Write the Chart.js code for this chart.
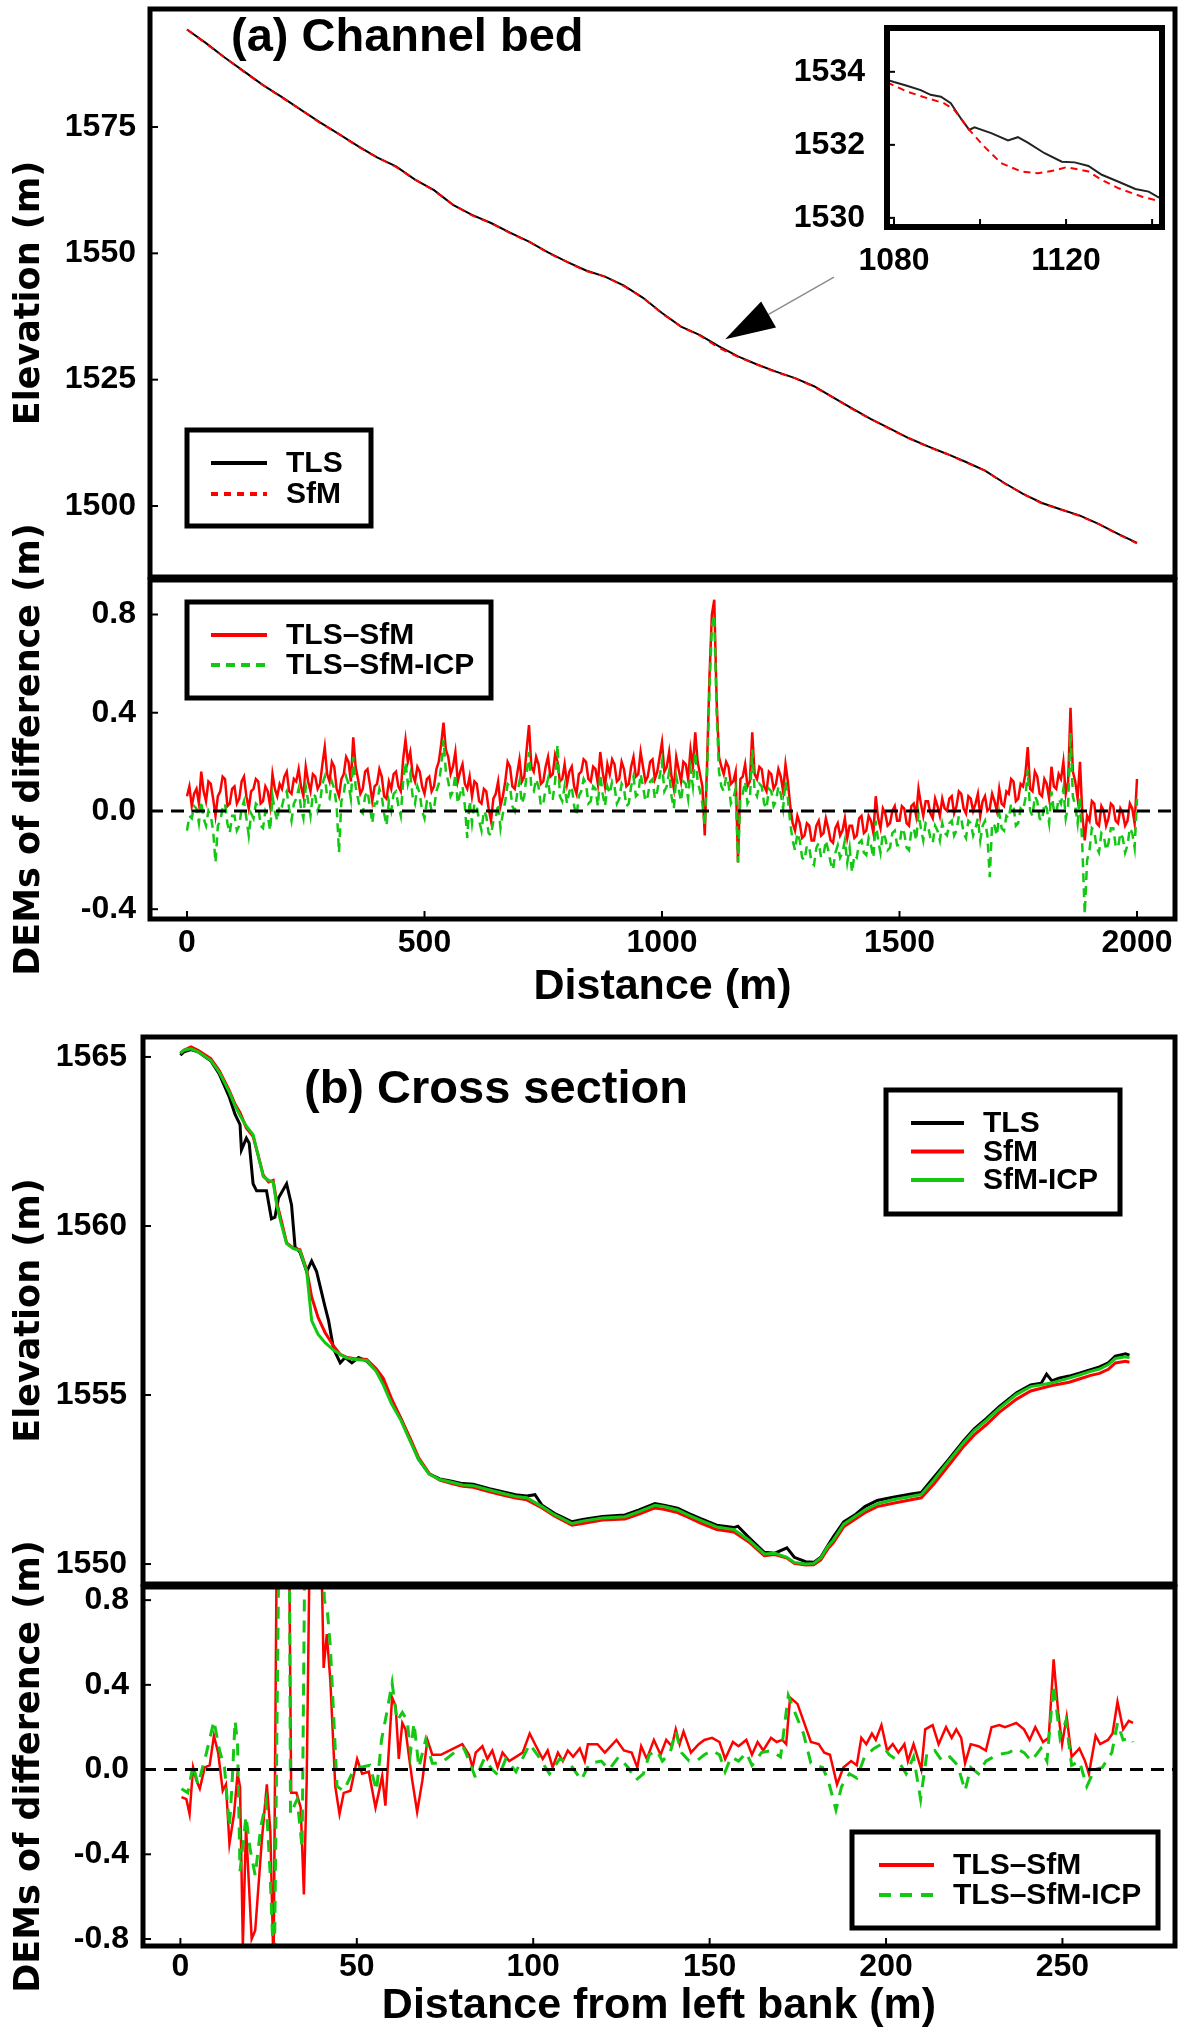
<!DOCTYPE html>
<html>
<head>
<meta charset="utf-8">
<title>Channel bed and cross section</title>
<script src="https://cdn.jsdelivr.net/npm/chart.js@4.4.1/dist/chart.umd.min.js"></script>
<style>
  html, body { margin: 0; padding: 0; background: #fff; }
  body { position: relative; width: 1181px; height: 2043px; overflow: hidden; }
  canvas { position: absolute; }
</style>
</head>
<body>
<canvas id="bedChart" width="1181" height="600" style="left:0;top:0"></canvas>
<canvas id="bedDiffChart" width="1181" height="660" style="left:0;top:380px"></canvas>
<canvas id="insetChart" width="421" height="300" style="left:760px;top:0"></canvas>
<canvas id="csChart" width="1181" height="600" style="left:0;top:1000px"></canvas>
<canvas id="csDiffChart" width="1181" height="543" style="left:0;top:1500px"></canvas>
<script>
// ---- (a) channel bed profile ----
const bedDist = [0,40,80,120,160,200,240,280,320,360,400,440,480,520,560,600,640,680,720,760,800,840,880,920,960,
  1000,1040,1080,1120,1160,1200,1240,1280,1320,1360,1400,1440,1480,1520,1560,1600,1640,1680,1720,1760,1800,1840,1880,1920,1960,2000];
const bedTLS = [1594.3,1591.6,1588.7,1586.0,1583.3,1580.9,1578.4,1575.9,1573.6,1571.2,
  1569.0,1567.2,1564.6,1562.5,1559.6,1557.6,1556.0,1554.1,1552.3,1550.2,
  1548.3,1546.6,1545.4,1543.6,1541.2,1538.2,1535.5,1533.8,1531.6,1529.6,
  1528.0,1526.6,1525.3,1523.7,1521.5,1519.3,1517.2,1515.3,1513.4,1511.8,
  1510.3,1508.7,1507.0,1504.6,1502.4,1500.6,1499.3,1498.1,1496.4,1494.5,1492.7];
const bedSfM = [1594.3,1591.5,1588.7,1585.9,1583.3,1580.8,1578.4,1575.8,1573.6,1571.1,
  1569.0,1567.1,1564.6,1562.4,1559.6,1557.5,1556.0,1554.0,1552.3,1550.1,
  1548.3,1546.5,1545.4,1543.5,1541.2,1538.1,1535.5,1533.7,1531.3,1529.5,
  1528.0,1526.5,1525.3,1523.6,1521.5,1519.2,1517.2,1515.2,1513.4,1511.7,
  1510.3,1508.6,1507.0,1504.5,1502.4,1500.5,1499.3,1498.0,1496.4,1494.4,1492.6];
const bedElevTicks = [1500, 1525, 1550, 1575];
const distTicks = [0, 500, 1000, 1500, 2000];

// inset, 1080-1140 m
const insetDistTLS = [1078.4,1080,1083,1086.2,1088.5,1090.9,1093.2,1095.5,1097.5,1098.7,1102.6,1106.5,1108.8,1111.1,1115,1119,1122,1125.2,1128.3,1132.2,1136.1,1139.2,1141.2,1142.3];
const insetTLS = [1533.78,1533.72,1533.62,1533.5,1533.37,1533.32,1533.14,1532.73,1532.41,1532.48,1532.32,1532.12,1532.21,1532.06,1531.77,1531.54,1531.52,1531.42,1531.18,1530.99,1530.79,1530.72,1530.58,1530.52];
const insetDistSfM = [1078.4,1083,1087.7,1091.6,1094,1097.5,1101,1104.9,1109.6,1113.5,1117.4,1120.1,1125.2,1128.3,1132.2,1137.7,1141.2,1142.3];
const insetSfM = [1533.71,1533.46,1533.28,1533.14,1532.96,1532.41,1531.95,1531.5,1531.27,1531.22,1531.3,1531.39,1531.27,1531.04,1530.81,1530.58,1530.47,1530.44];
const insetXTicks = [1080, 1100, 1120, 1140];
const insetXLabels = [1080, 1120];
const insetYTicks = [1530, 1532, 1534];

// DEMs of difference along the bed, every 5 m
const diffDist = [
  0,5,10,15,20,25,30,35,40,45,50,55,60,65,70,75,80,85,90,95,
  100,105,110,115,120,125,130,135,140,145,150,155,160,165,170,175,180,185,190,195,
  200,205,210,215,220,225,230,235,240,245,250,255,260,265,270,275,280,285,290,295,
  300,305,310,315,320,325,330,335,340,345,350,355,360,365,370,375,380,385,390,395,
  400,405,410,415,420,425,430,435,440,445,450,455,460,465,470,475,480,485,490,495,
  500,505,510,515,520,525,530,535,540,545,550,555,560,565,570,575,580,585,590,595,
  600,605,610,615,620,625,630,635,640,645,650,655,660,665,670,675,680,685,690,695,
  700,705,710,715,720,725,730,735,740,745,750,755,760,765,770,775,780,785,790,795,
  800,805,810,815,820,825,830,835,840,845,850,855,860,865,870,875,880,885,890,895,
  900,905,910,915,920,925,930,935,940,945,950,955,960,965,970,975,980,985,990,995,
  1000,1005,1010,1015,1020,1025,1030,1035,1040,1045,1050,1055,1060,1065,1070,1075,1080,1085,1090,1095,
  1100,1105,1110,1115,1120,1125,1130,1135,1140,1145,1150,1155,1160,1165,1170,1175,1180,1185,1190,1195,
  1200,1205,1210,1215,1220,1225,1230,1235,1240,1245,1250,1255,1260,1265,1270,1275,1280,1285,1290,1295,
  1300,1305,1310,1315,1320,1325,1330,1335,1340,1345,1350,1355,1360,1365,1370,1375,1380,1385,1390,1395,
  1400,1405,1410,1415,1420,1425,1430,1435,1440,1445,1450,1455,1460,1465,1470,1475,1480,1485,1490,1495,
  1500,1505,1510,1515,1520,1525,1530,1535,1540,1545,1550,1555,1560,1565,1570,1575,1580,1585,1590,1595,
  1600,1605,1610,1615,1620,1625,1630,1635,1640,1645,1650,1655,1660,1665,1670,1675,1680,1685,1690,1695,
  1700,1705,1710,1715,1720,1725,1730,1735,1740,1745,1750,1755,1760,1765,1770,1775,1780,1785,1790,1795,
  1800,1805,1810,1815,1820,1825,1830,1835,1840,1845,1850,1855,1860,1865,1870,1875,1880,1885,1890,1895,
  1900,1905,1910,1915,1920,1925,1930,1935,1940,1945,1950,1955,1960,1965,1970,1975,1980,1985,1990,1995,
  2000];
const diffSfM = [
  0.06,0.10,0.02,0.07,0.09,0.03,0.16,0.08,0.04,0.12,0.11,0.05,-0.02,0.06,0.08,0.14,0.13,0.02,0.03,0.09,
  0.10,0.03,0.05,0.12,0.14,0.06,0.01,0.08,0.09,0.13,0.12,0.03,0.04,0.10,0.08,0.02,0.15,0.09,0.06,0.11,
  0.09,0.14,0.16,0.08,0.07,0.13,0.12,0.17,0.10,0.06,0.18,0.12,0.08,0.15,0.14,0.09,0.11,0.19,0.26,0.15,
  0.12,0.20,0.18,0.09,0.06,0.13,0.15,0.22,0.20,0.12,0.30,0.18,0.13,0.07,0.09,0.16,0.17,0.11,0.04,0.10,
  0.11,0.17,0.14,0.06,0.05,0.12,0.09,0.15,0.16,0.10,0.08,0.21,0.29,0.20,0.24,0.15,0.12,0.18,0.16,0.10,
  0.07,0.13,0.14,0.08,0.10,0.17,0.20,0.27,0.36,0.25,0.22,0.15,0.18,0.24,0.12,0.16,0.19,0.11,0.09,0.14,
  0.06,0.12,0.11,0.04,0.03,0.09,0.08,0.01,-0.04,0.05,0.07,0.12,0.02,0.06,0.12,0.20,0.18,0.10,0.09,0.15,
  0.21,0.12,0.14,0.25,0.35,0.18,0.16,0.22,0.19,0.11,0.12,0.18,0.22,0.14,0.15,0.23,0.20,0.12,0.13,0.19,
  0.11,0.16,0.18,0.10,0.07,0.15,0.16,0.21,0.20,0.13,0.12,0.18,0.17,0.11,0.24,0.16,0.10,0.19,0.15,0.21,
  0.19,0.12,0.13,0.20,0.17,0.10,0.11,0.18,0.22,0.14,0.15,0.24,0.18,0.12,0.14,0.20,0.21,0.13,0.16,0.22,
  0.28,0.16,0.18,0.24,0.14,0.09,0.22,0.17,0.12,0.20,0.19,0.13,0.25,0.18,0.32,0.20,0.15,0.10,-0.10,0.20,
  0.55,0.80,0.86,0.45,0.22,0.18,0.15,0.20,0.18,0.11,0.12,0.16,-0.21,0.13,0.14,0.19,0.10,0.12,0.32,0.15,
  0.13,0.18,0.17,0.10,0.08,0.16,0.15,0.09,0.11,0.17,0.14,0.08,0.19,0.12,0.02,-0.05,-0.08,-0.02,-0.05,-0.11,
  -0.10,-0.05,-0.06,-0.12,-0.12,-0.06,-0.04,-0.10,-0.09,-0.03,-0.07,-0.12,-0.13,-0.07,-0.05,-0.10,-0.08,-0.03,-0.11,-0.06,
  -0.06,-0.11,-0.10,-0.03,-0.02,-0.09,-0.08,-0.02,-0.04,-0.09,0.06,-0.03,-0.07,0.01,-0.01,-0.06,-0.05,0.00,0.02,-0.04,
  -0.04,0.02,0.01,-0.05,-0.06,0.02,0.03,-0.02,0.09,0.03,-0.02,0.04,0.04,-0.01,-0.03,0.05,0.02,-0.02,0.05,0.01,
  0.00,0.05,0.06,-0.01,0.02,0.08,0.07,0.01,-0.01,0.06,0.05,0.00,0.03,0.07,-0.02,0.04,0.06,0.00,0.01,0.07,
  0.04,0.00,0.09,0.03,0.02,0.08,0.07,0.13,0.12,0.04,0.05,0.11,0.10,0.15,0.26,0.09,0.08,0.16,0.14,0.07,
  0.06,0.13,0.11,0.05,0.18,0.10,0.09,0.15,0.13,0.20,0.07,0.12,0.42,0.16,0.12,0.05,0.20,-0.02,-0.12,-0.02,
  -0.04,0.04,0.03,-0.05,-0.06,0.02,0.00,-0.06,-0.03,0.03,0.02,-0.04,-0.05,0.01,-0.01,-0.06,-0.04,0.03,0.01,-0.05,
  0.13];
const diffICP = [
  -0.08,-0.02,-0.03,0.02,0.01,-0.05,0.04,-0.03,-0.06,0.00,-0.02,-0.08,-0.21,-0.06,-0.04,0.01,0.03,-0.05,-0.09,-0.02,
  -0.02,-0.08,-0.06,0.01,0.04,-0.03,-0.10,-0.01,-0.03,0.03,0.02,-0.06,-0.07,0.00,-0.02,-0.08,0.06,0.00,-0.04,0.03,
  0.02,0.06,0.08,0.01,-0.04,0.03,0.05,0.09,0.01,-0.03,0.10,0.04,-0.02,0.07,0.06,0.00,0.03,0.11,0.14,0.06,
  0.05,0.12,0.09,0.02,-0.17,0.04,0.07,0.14,0.11,0.05,0.22,0.10,0.05,0.00,-0.01,0.06,0.08,0.02,-0.05,0.03,
  0.03,0.09,0.06,-0.01,-0.06,0.04,0.00,0.07,0.08,0.02,-0.02,0.12,0.20,0.11,0.15,0.06,0.03,0.10,0.07,0.00,
  -0.03,0.04,0.05,0.00,0.01,0.08,0.11,0.18,0.29,0.16,0.12,0.06,0.08,0.15,0.03,0.07,0.10,0.02,-0.11,0.04,
  -0.05,0.03,0.02,-0.04,-0.08,0.00,-0.02,-0.09,-0.10,-0.04,-0.03,0.03,-0.07,-0.01,0.04,0.11,0.10,0.02,0.00,0.07,
  0.12,0.03,0.06,0.15,0.24,0.09,0.08,0.13,0.10,0.02,0.03,0.09,0.13,0.05,0.05,0.12,0.27,0.06,0.04,0.10,
  0.03,0.08,0.10,0.02,-0.02,0.06,0.08,0.13,0.11,0.03,0.04,0.10,0.09,0.02,0.15,0.07,0.02,0.10,0.07,0.12,
  0.10,0.03,0.05,0.11,0.09,0.02,0.03,0.10,0.14,0.06,0.07,0.15,0.10,0.04,0.06,0.12,0.13,0.05,0.08,0.14,
  0.20,0.08,0.10,0.16,0.06,0.01,0.14,0.09,0.04,0.12,0.11,0.05,0.17,0.10,0.24,0.12,0.08,0.03,-0.06,0.15,
  0.50,0.75,0.80,0.40,0.16,0.10,0.08,0.14,0.11,0.03,0.05,0.09,-0.21,0.06,0.07,0.12,0.03,0.05,0.25,0.08,
  0.06,0.11,0.10,0.03,0.01,0.09,0.08,0.02,0.04,0.10,0.07,0.01,0.12,0.05,-0.05,-0.12,-0.16,-0.09,-0.12,-0.19,
  -0.20,-0.14,-0.15,-0.21,-0.22,-0.15,-0.13,-0.19,-0.18,-0.12,-0.16,-0.21,-0.24,-0.17,-0.14,-0.19,-0.17,-0.12,-0.21,-0.15,
  -0.25,-0.18,-0.19,-0.13,-0.12,-0.17,-0.18,-0.11,-0.14,-0.19,-0.04,-0.12,-0.17,-0.09,-0.11,-0.16,-0.15,-0.09,-0.08,-0.14,
  -0.14,-0.07,-0.09,-0.15,-0.16,-0.08,-0.07,-0.12,-0.01,-0.07,-0.12,-0.05,-0.06,-0.11,-0.13,-0.06,-0.08,-0.12,-0.05,-0.09,
  -0.10,-0.05,-0.04,-0.10,-0.08,-0.02,-0.03,-0.09,-0.11,-0.04,-0.05,-0.10,-0.07,-0.03,-0.12,-0.06,-0.04,-0.10,-0.27,-0.05,
  -0.06,-0.10,-0.01,-0.07,-0.08,-0.02,-0.03,0.03,0.02,-0.06,-0.05,0.01,0.00,0.05,0.17,0.00,-0.02,0.06,0.04,-0.03,
  -0.04,0.03,0.01,-0.05,0.08,0.00,-0.01,0.05,0.03,0.09,-0.03,0.02,0.32,0.06,0.02,-0.05,0.06,-0.15,-0.42,-0.20,
  -0.16,-0.07,-0.08,-0.15,-0.17,-0.09,-0.10,-0.16,-0.13,-0.07,-0.07,-0.14,-0.15,-0.09,-0.11,-0.17,-0.14,-0.07,-0.09,-0.15,
  0.05];
const diffTicks = [-0.4, 0, 0.4, 0.8];

// ---- (b) cross section ----
const csDistTLS = [0,1,3,5,8.6,11,13.9,15.5,16.9,17.3,18.7,19.5,20.6,21.6,24.4,25.8,26.8,27.8,30.1,31.5,
  32.5,33.9,35.8,37.2,38.6,41,42,43.4,45.3,46.7,48.6,50.5,52.8,55.5,57.5,59.8,62.5,65.2,67.5,70.5,
  73.5,76.9,80,83,87.6,91,95,98.2,100.5,102.5,106,111,114,119.6,126,130,134.5,137,140.9,144,
  147.3,152,156.9,158,161,165.5,168.5,171.9,174,177.2,179.5,181.5,183.5,185,188,191.1,194,197.5,202,207.1,
  210,213.5,217,222,225,228.4,232,237,241,244,245.5,247,249,251.9,255,258,260.5,263,265,267.9,269];
const csTLS = [1565.05,1565.15,1565.22,1565.15,1564.89,1564.5,1563.80,1563.3,1563.0,1562.25,
  1562.6,1562.45,1561.25,1561.04,1561.04,1560.21,1560.26,1560.83,1561.25,1560.62,
  1559.38,1559.22,1558.65,1558.96,1558.65,1557.61,1557.2,1556.37,1555.95,1556.11,
  1555.95,1556.11,1556.0,1555.72,1555.4,1554.85,1554.3,1553.65,1553.1,1552.67,
  1552.52,1552.45,1552.38,1552.36,1552.23,1552.15,1552.05,1552.01,1552.05,1551.74,
  1551.5,1551.25,1551.32,1551.41,1551.45,1551.6,1551.79,1551.74,1551.65,1551.5,
  1551.35,1551.15,1551.08,1551.12,1550.8,1550.35,1550.32,1550.48,1550.2,1550.07,
  1550.05,1550.2,1550.55,1550.8,1551.25,1551.45,1551.7,1551.88,1551.98,1552.07,
  1552.12,1552.56,1553.0,1553.65,1554.0,1554.30,1554.65,1555.07,1555.3,1555.35,
  1555.62,1555.42,1555.5,1555.56,1555.65,1555.75,1555.83,1555.95,1556.15,1556.22,1556.18];
const csDistSfM = [0,1,3,5,8.6,11,13.9,15.5,16.9,18.7,20.6,22,23.5,25,26.3,27.3,28.5,30.1,32,33.9,
  35.8,37.2,39,41,43.4,45.3,47,49,52.8,55.5,57.5,59.8,62.5,65.2,67.5,70.5,73.5,76.9,80,83,
  87.6,91,95,98.2,102.5,106,111,114,119.6,126,130,134.5,137,140.9,144,147.3,152,156.9,161,165.5,
  168.5,171.9,174,177.2,179.5,181.5,183.5,185,188,191.1,194,197.5,202,207.1,210,213.5,217,222,225,228.4,
  232,237,241,244,247,251.9,255,258,260.5,263,265,267.9,269];
const csSfM = [1565.1,1565.2,1565.3,1565.2,1564.95,1564.6,1564.0,1563.6,1563.35,1562.9,
  1562.65,1562.1,1561.5,1561.3,1561.35,1560.7,1560.2,1559.5,1559.35,1559.3,
  1558.7,1557.9,1557.3,1556.85,1556.45,1556.2,1556.12,1556.08,1556.05,1555.78,
  1555.5,1554.9,1554.3,1553.7,1553.15,1552.68,1552.48,1552.38,1552.3,1552.27,
  1552.14,1552.05,1551.95,1551.9,1551.66,1551.42,1551.15,1551.2,1551.3,1551.33,
  1551.48,1551.66,1551.62,1551.52,1551.38,1551.22,1551.02,1550.95,1550.66,1550.25,
  1550.28,1550.18,1550.02,1549.97,1549.98,1550.12,1550.45,1550.62,1551.1,1551.32,
  1551.52,1551.7,1551.8,1551.9,1551.96,1552.36,1552.82,1553.48,1553.82,1554.12,
  1554.48,1554.88,1555.12,1555.2,1555.28,1555.38,1555.48,1555.58,1555.64,1555.76,
  1555.95,1556.0,1555.97];
const csDistICP = csDistSfM;
const csICP = [1565.12,1565.2,1565.24,1565.15,1564.9,1564.55,1563.95,1563.55,1563.27,1562.95,
  1562.7,1562.1,1561.46,1561.35,1561.3,1560.62,1560.1,1559.48,1559.33,1559.27,
  1558.65,1557.2,1556.8,1556.55,1556.33,1556.2,1556.1,1556.06,1556.02,1555.7,
  1555.3,1554.75,1554.25,1553.62,1553.1,1552.66,1552.5,1552.42,1552.34,1552.32,
  1552.19,1552.1,1552.0,1551.96,1551.7,1551.46,1551.2,1551.27,1551.36,1551.4,
  1551.55,1551.74,1551.7,1551.6,1551.45,1551.3,1551.1,1551.02,1550.72,1550.3,
  1550.32,1550.2,1550.05,1550.0,1550.02,1550.18,1550.52,1550.7,1551.18,1551.4,
  1551.6,1551.78,1551.9,1552.0,1552.06,1552.48,1552.95,1553.6,1553.95,1554.25,
  1554.6,1555.02,1555.25,1555.3,1555.36,1555.5,1555.6,1555.7,1555.77,1555.9,
  1556.08,1556.13,1556.1];
const csElevTicks = [1550, 1555, 1560, 1565];
const csDistTicks = [0, 50, 100, 150, 200, 250];

// DEMs of difference across the section
const csDiffDistSfM = [0.3,1.7,2.6,3.6,4.5,5.5,6.9,8.3,9.5,10.7,12.0,12.9,13.9,15.2,16.2,16.9,17.7,18.6,20.2,21.2,
  23.1,24.5,25.5,26.4,27.5,30.6,31.4,32.9,34.1,35.0,35.8,36.9,39.5,40.6,41.5,42.5,43.9,45.1,46.3,48.2,
  50.1,51.5,53.4,55.3,56.2,57.2,58.1,60.0,61.0,61.9,62.9,63.8,64.8,65.7,67.1,68.6,70.0,71.4,73.8,76.2,
  79.9,81.8,82.8,83.7,85.6,87.0,88.4,89.9,91.3,93.2,95.1,97.0,99.0,100.8,102.7,104.1,105.5,107.0,108.4,109.8,
  111.3,113.2,114.6,115.5,118.2,120.3,123.6,125.7,127.9,129.5,130.6,132.2,134.2,136.1,137.7,139.3,140.4,141.5,142.6,144.7,
  146.9,148.5,150.7,152.8,154.4,156.6,158.2,160.4,162.0,163.6,165.2,167.4,169.0,170.6,171.7,172.8,174.9,176.6,178.7,180.9,
  182.5,184.1,186.1,187.9,190.1,191.7,193.0,194.4,196.0,197.1,198.7,200.3,201.9,203.5,205.2,206.2,207.8,210.0,211.1,213.2,
  214.9,217.0,218.6,219.9,221.3,222.4,224.0,226.2,228.3,229.9,232.1,233.7,235.3,236.9,239.1,240.7,242.3,244.5,246.1,247.5,
  248.8,249.9,251.2,252.6,254.8,256.4,257.5,259.4,260.7,262.9,264.2,265.6,267.2,268.8,270.0];
const csDiffSfM = [-0.13,-0.14,-0.21,0.01,-0.05,-0.09,0.01,0.02,0.16,0.08,-0.10,-0.07,-0.35,-0.21,-0.02,-0.08,-0.83,-0.27,-0.80,-0.76,
  -0.33,-0.07,-0.29,-0.95,1.5,1.5,-0.11,-0.11,-0.18,-0.59,-0.05,1.4,1.4,0.48,0.64,0.42,-0.08,-0.21,-0.11,-0.10,
  0.05,-0.02,-0.01,-0.18,-0.11,-0.03,-0.17,0.34,0.30,0.05,0.22,0.19,0.06,-0.05,-0.20,-0.05,0.14,0.07,0.07,0.09,
  0.12,0.07,0.01,0.08,0.11,0.05,0.09,0.01,0.08,0.04,0.06,0.08,0.17,0.11,0.05,0.09,0.01,0.08,0.04,0.09,
  0.06,0.10,0.04,0.12,0.12,0.08,0.14,0.09,0.08,0.01,0.11,0.05,0.14,0.07,0.14,0.11,0.19,0.12,0.18,0.08,
  0.12,0.14,0.15,0.13,0.05,0.13,0.11,0.14,0.07,0.13,0.09,0.15,0.13,0.14,0.12,0.34,0.31,0.23,0.13,0.12,
  0.08,0.07,-0.07,0.01,0.04,0.02,0.15,0.12,0.17,0.14,0.21,0.09,0.12,0.08,0.12,0.04,0.12,0.00,0.19,0.21,
  0.12,0.20,0.15,0.19,0.15,0.03,0.12,0.11,0.09,0.20,0.21,0.20,0.21,0.22,0.19,0.14,0.20,0.13,0.15,0.52,
  0.27,0.12,0.25,0.06,0.10,0.04,-0.02,0.16,0.12,0.14,0.17,0.32,0.19,0.23,0.22];
const csDiffDistICP = [0.3,2.1,3.6,5.0,7.4,9.5,11.1,12.5,13.9,14.6,15.5,16.2,16.9,18.6,19.7,21.2,22.8,24.3,25.4,26.6,
  28.2,30.8,31.2,33.1,34.5,35.4,40.0,40.8,41.7,42.5,44.4,46.3,48.6,50.9,53.7,55.6,57.0,58.4,60.0,61.4,
  62.9,64.3,65.2,66.2,67.6,69.5,71.4,73.8,77.6,80.4,83.7,86.1,88.4,90.3,92.2,95.1,99.0,101.6,104.6,107.5,
  110.3,113.6,116.0,119.3,121.5,124.2,126.9,129.1,131.2,132.9,135.0,136.6,138.8,140.4,142.0,144.2,146.3,148.5,150.7,152.8,
  154.4,156.1,158.2,160.4,162.0,164.7,167.4,170.1,172.3,174.4,176.6,178.7,182.0,183.6,185.8,187.4,189.6,191.7,193.9,196.6,
  198.7,200.9,203.5,205.7,207.8,209.8,211.6,213.8,215.9,218.1,220.3,222.4,224.0,226.2,228.3,231.5,234.8,236.9,239.1,241.2,
  243.9,245.6,247.5,249.3,251.0,252.6,254.8,256.9,259.1,261.3,264.0,265.6,267.2,269.4,270.0];
const csDiffICP = [-0.09,-0.11,0.02,-0.07,0.08,0.23,0.09,0.01,-0.27,-0.08,0.23,0.12,-0.48,-0.22,-0.37,-0.50,-0.27,-0.15,-0.48,-1.0,
  1.5,1.5,-0.21,-0.14,-0.37,1.3,1.3,0.80,0.74,0.58,-0.08,-0.10,-0.02,0.01,0.02,-0.10,0.14,0.26,0.41,0.23,
  0.27,0.23,0.08,0.22,0.01,0.14,0.03,0.03,0.08,0.10,-0.04,0.05,0.00,-0.03,0.05,-0.01,0.12,0.06,-0.02,0.05,
  0.03,-0.05,0.03,0.04,0.00,0.06,0.01,-0.05,-0.02,0.07,0.09,0.04,0.08,0.18,0.08,0.04,0.04,0.07,0.09,0.07,
  -0.01,0.06,0.04,0.08,0.02,0.08,0.09,0.06,0.35,0.26,0.17,0.03,0.01,-0.05,-0.19,-0.08,-0.02,-0.04,0.06,0.10,
  0.12,0.07,0.04,-0.02,0.06,-0.14,0.08,0.09,0.04,0.06,0.02,-0.10,0.01,-0.02,0.04,0.07,0.08,0.10,0.08,0.04,
  0.10,0.04,0.40,0.15,0.23,0.02,0.04,-0.08,0.00,0.01,0.08,0.22,0.14,0.15,0.13];
const csDiffTicks = [-0.8, -0.4, 0, 0.4, 0.8];

// ---- drawing ----
const RED = '#ff0000';
const GREEN = '#12c812';
const bedXMin = -77.9, bedXMax = 2080;
const csXMin = -10.6, csXMax = 281.9;

Chart.defaults.font.family = '"Liberation Sans", Arial, sans-serif';
Chart.defaults.color = '#000';
Chart.defaults.animation = false;
Chart.defaults.events = [];
Chart.defaults.elements.point.radius = 0;
Chart.defaults.elements.line.tension = 0;
Chart.defaults.plugins.legend.display = false;
Chart.defaults.plugins.tooltip.enabled = false;

const pts = (xs, ys) => xs.map((x, i) => ({ x, y: ys[i] }));
const tickFont = { size: 32, weight: 'bold' };

function axis({ min, max, ticks, size, horizontal, show = true, padding = 12, fmt = v => String(v), labelled, title, titlePad = 0 }) {
  return {
    type: 'linear', min, max, display: show,
    grid: { display: false, drawTicks: false },
    border: { display: false },
    ticks: {
      font: tickFont, padding, autoSkip: false, maxRotation: 0, minRotation: 0,
      callback: v => (labelled && !labelled.includes(v)) ? '' : fmt(v)
    },
    afterBuildTicks: s => { s.ticks = ticks.map(v => ({ value: v })); },
    afterFit: s => {
      if (!show) return;
      if (horizontal) s.height = size; else s.width = size;
      s.paddingTop = s.paddingBottom = s.paddingLeft = s.paddingRight = 0;
    },
    title: title
      ? { display: true, text: title, font: { size: 43, weight: 'bold' }, padding: { top: 0, bottom: titlePad } }
      : { display: false }
  };
}

// thick frame round the plot area, with short inward ticks
const framePlugin = {
  id: 'frame',
  beforeDraw(chart, args, o) {
    if (!o.fill) return;
    const { ctx, chartArea: a } = chart;
    ctx.save();
    ctx.fillStyle = o.fill;
    ctx.fillRect(a.left, a.top, a.right - a.left, a.bottom - a.top);
    ctx.restore();
  },
  afterDraw(chart, args, o) {
    const { ctx, chartArea: a, scales } = chart;
    const len = 8;
    ctx.save();
    ctx.strokeStyle = '#000';
    ctx.lineWidth = 2;
    if (o.xTicks) {
      scales.x.ticks.forEach(t => {
        const p = scales.x.getPixelForValue(t.value);
        ctx.beginPath(); ctx.moveTo(p, a.bottom); ctx.lineTo(p, a.bottom - len); ctx.stroke();
      });
    }
    scales.y.ticks.forEach(t => {
      const p = scales.y.getPixelForValue(t.value);
      ctx.beginPath(); ctx.moveTo(a.left, p); ctx.lineTo(a.left + len, p); ctx.stroke();
    });
    ctx.lineWidth = o.width || 5;
    ctx.strokeRect(a.left, a.top, a.right - a.left, a.bottom - a.top);
    ctx.restore();
  }
};

// rotated y title, not squeezed to the axis height
const sideTitle = {
  id: 'sideTitle',
  afterDraw(chart, args, o) {
    if (!o.text) return;
    const { ctx, chartArea: a } = chart;
    ctx.save();
    ctx.translate(30, (a.top + a.bottom) / 2);
    ctx.rotate(-Math.PI / 2);
    ctx.font = 'bold 35px "DejaVu Sans"';
    ctx.fillStyle = '#000';
    ctx.textAlign = 'center';
    ctx.textBaseline = 'middle';
    ctx.fillText(o.text, 0, 0);
    ctx.restore();
  }
};

const panelLabel = {
  id: 'panelLabel',
  afterDraw(chart, args, o) {
    if (!o.text) return;
    const { ctx } = chart;
    ctx.save();
    ctx.font = 'bold 47px "Liberation Sans"';
    ctx.fillStyle = '#000';
    ctx.fillText(o.text, o.x, o.y);
    ctx.restore();
  }
};

// boxed legend built from the datasets that carry a label
const boxLegend = {
  id: 'boxLegend',
  afterDraw(chart, args, o) {
    if (!o.box) return;
    const { ctx } = chart;
    const [bx, by, bw, bh] = o.box;
    ctx.save();
    ctx.fillStyle = '#fff';
    ctx.fillRect(bx, by, bw, bh);
    ctx.lineWidth = 5;
    ctx.strokeStyle = '#000';
    ctx.strokeRect(bx, by, bw, bh);
    ctx.font = 'bold 30px "Liberation Sans"';
    ctx.textBaseline = 'middle';
    chart.data.datasets.filter(d => d.label).forEach((d, i) => {
      const y = by + o.first + i * o.gap;
      ctx.beginPath();
      ctx.setLineDash(d.borderDash || []);
      ctx.lineWidth = 4;
      ctx.strokeStyle = d.borderColor;
      ctx.moveTo(bx + o.lineFrom, y);
      ctx.lineTo(bx + o.lineFrom + o.lineLen, y);
      ctx.stroke();
      ctx.setLineDash([]);
      ctx.fillStyle = '#000';
      ctx.fillText(d.label, bx + o.textAt, y + 1);
    });
    ctx.restore();
  }
};

const arrowPlugin = {
  id: 'arrow',
  afterDatasetsDraw(chart, args, o) {
    if (!o.from) return;
    const { ctx, scales: { x, y } } = chart;
    const x0 = x.getPixelForValue(o.from[0]), y0 = y.getPixelForValue(o.from[1]);
    const x1 = x.getPixelForValue(o.to[0]), y1 = y.getPixelForValue(o.to[1]);
    const dx = x1 - x0, dy = y1 - y0, L = Math.hypot(dx, dy);
    const ux = dx / L, uy = dy / L, head = 50, half = 15;
    const bxp = x1 - ux * head, byp = y1 - uy * head;
    ctx.save();
    ctx.strokeStyle = '#8c8c8c';
    ctx.lineWidth = 1.5;
    ctx.beginPath(); ctx.moveTo(x0, y0); ctx.lineTo(bxp, byp); ctx.stroke();
    ctx.fillStyle = '#000';
    ctx.beginPath();
    ctx.moveTo(x1, y1);
    ctx.lineTo(bxp - uy * half, byp + ux * half);
    ctx.lineTo(bxp + uy * half, byp - ux * half);
    ctx.closePath();
    ctx.fill();
    ctx.restore();
  }
};

Chart.register(framePlugin, sideTitle, panelLabel, boxLegend, arrowPlugin);

const zeroLine = (xmin, xmax) => ({
  data: [{ x: xmin, y: 0 }, { x: xmax, y: 0 }],
  borderColor: '#000', borderWidth: 3, borderDash: [13, 8], order: 0
});

// (a) elevation along the bed
new Chart(document.getElementById('bedChart'), {
  type: 'line',
  data: {
    datasets: [
      { label: 'TLS', data: pts(bedDist, bedTLS), borderColor: '#000', borderWidth: 2, order: 1 },
      { label: 'SfM', data: pts(bedDist, bedSfM), borderColor: RED, borderWidth: 2, borderDash: [7, 6], order: 0 }
    ]
  },
  options: {
    responsive: false,
    layout: { padding: { top: 9, right: 6, bottom: 23, left: 0 } },
    scales: {
      x: axis({ min: bedXMin, max: bedXMax, ticks: distTicks, horizontal: true, show: false }),
      y: axis({ min: 1485.95, max: 1598.35, ticks: bedElevTicks, size: 150, padding: 14 })
    },
    plugins: {
      frame: {},
      sideTitle: { text: 'Elevation (m)' },
      panelLabel: { text: '(a) Channel bed', x: 231, y: 51 },
      boxLegend: { box: [187, 430, 184, 96], first: 33, gap: 31, lineFrom: 24, lineLen: 56, textAt: 99 },
      arrow: { from: [1362, 1545.3], to: [1133, 1533.0] }
    }
  }
});

// (a) differences
new Chart(document.getElementById('bedDiffChart'), {
  type: 'line',
  data: {
    datasets: [
      { label: 'TLS\u2013SfM', data: pts(diffDist, diffSfM), borderColor: RED, borderWidth: 2.5, order: 2 },
      { label: 'TLS\u2013SfM-ICP', data: pts(diffDist, diffICP), borderColor: GREEN, borderWidth: 2.5, borderDash: [9, 6], order: 1 },
      zeroLine(bedXMin, bedXMax)
    ]
  },
  options: {
    responsive: false,
    layout: { padding: { top: 200, right: 6, bottom: 0, left: 0 } },
    scales: {
      x: axis({ min: bedXMin, max: bedXMax, ticks: distTicks, horizontal: true, size: 121, padding: 5, title: 'Distance (m)', titlePad: 27 }),
      y: axis({ min: -0.44, max: 0.9405, ticks: diffTicks, size: 150, padding: 14, fmt: v => v.toFixed(1) })
    },
    plugins: {
      frame: { xTicks: true },
      sideTitle: { text: 'DEMs of difference (m)' },
      boxLegend: { box: [187, 222, 304, 96], first: 33, gap: 30, lineFrom: 24, lineLen: 56, textAt: 99 }
    }
  }
});

// (a) inset
new Chart(document.getElementById('insetChart'), {
  type: 'line',
  data: {
    datasets: [
      { label: 'TLS', data: pts(insetDistTLS, insetTLS), borderColor: '#222', borderWidth: 2, order: 1 },
      { label: 'SfM', data: pts(insetDistSfM, insetSfM), borderColor: RED, borderWidth: 2, borderDash: [7, 5], order: 0 }
    ]
  },
  options: {
    responsive: false,
    layout: { padding: { top: 28, right: 19, bottom: 0, left: 0 } },
    scales: {
      x: axis({ min: 1078.37, max: 1142.3, ticks: insetXTicks, labelled: insetXLabels, horizontal: true, size: 73, padding: 15 }),
      y: axis({ min: 1529.75, max: 1535.2, ticks: insetYTicks, size: 127, padding: 22 })
    },
    plugins: { frame: { width: 6, fill: '#fff', xTicks: true } }
  }
});

// (b) cross section elevation
new Chart(document.getElementById('csChart'), {
  type: 'line',
  data: {
    datasets: [
      { label: 'TLS', data: pts(csDistTLS, csTLS), borderColor: '#000', borderWidth: 3, order: 2 },
      { label: 'SfM', data: pts(csDistSfM, csSfM), borderColor: RED, borderWidth: 3, order: 1 },
      { label: 'SfM-ICP', data: pts(csDistICP, csICP), borderColor: GREEN, borderWidth: 3, order: 0 }
    ]
  },
  options: {
    responsive: false,
    layout: { padding: { top: 37, right: 6, bottom: 16, left: 0 } },
    scales: {
      x: axis({ min: csXMin, max: csXMax, ticks: csDistTicks, horizontal: true, show: false }),
      y: axis({ min: 1549.41, max: 1565.59, ticks: csElevTicks, size: 143, padding: 16 })
    },
    plugins: {
      frame: {},
      sideTitle: { text: 'Elevation (m)' },
      panelLabel: { text: '(b) Cross section', x: 304, y: 103 },
      boxLegend: { box: [886, 90, 234, 124], first: 33, gap: 28.5, lineFrom: 25, lineLen: 53, textAt: 97 }
    }
  }
});

// (b) differences
new Chart(document.getElementById('csDiffChart'), {
  type: 'line',
  data: {
    datasets: [
      { label: 'TLS\u2013SfM', data: pts(csDiffDistSfM, csDiffSfM), borderColor: RED, borderWidth: 2.5, order: 2 },
      { label: 'TLS\u2013SfM-ICP', data: pts(csDiffDistICP, csDiffICP), borderColor: GREEN, borderWidth: 3, borderDash: [12, 9], order: 1 },
      zeroLine(csXMin, csXMax)
    ]
  },
  options: {
    responsive: false,
    layout: { padding: { top: 87, right: 6, bottom: 0, left: 0 } },
    scales: {
      x: axis({ min: csXMin, max: csXMax, ticks: csDistTicks, horizontal: true, size: 97, padding: 2, title: 'Distance from left bank (m)', titlePad: 11 }),
      y: axis({ min: -0.833, max: 0.862, ticks: csDiffTicks, size: 143, padding: 14, fmt: v => v.toFixed(1) })
    },
    plugins: {
      frame: { xTicks: true },
      sideTitle: { text: 'DEMs of difference (m)' },
      boxLegend: { box: [852, 332, 306, 96], first: 33, gap: 30, lineFrom: 27, lineLen: 55, textAt: 101 }
    }
  }
});
</script>
</body>
</html>
